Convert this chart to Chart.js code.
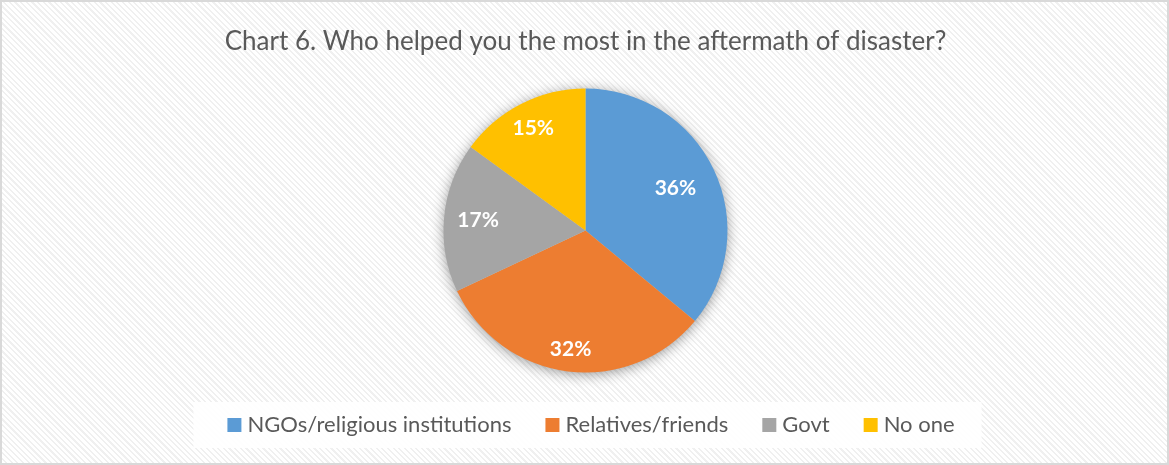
<!DOCTYPE html>
<html lang="en">
<head>
    <meta charset="UTF-8">
    <title>Chart 6</title>
    <script src="https://cdn.jsdelivr.net/npm/chart.js@4.4.1/dist/chart.umd.min.js"></script>
    <style>
        html, body { margin: 0; padding: 0; background: #ffffff; }
        #wrap {
            width: 1169px;
            height: 465px;
            box-sizing: border-box;
            border: 2px solid #d9d9d9;
            background-color: #ffffff;
            /* light diagonal hatch behind the chart */
            background-image: repeating-linear-gradient(45deg, #ffffff 0px, #ffffff 2.4px, #f0f0f0 2.4px, #f0f0f0 4px);
            position: relative;
        }
        #wrap canvas { display: block; }
    </style>
</head>
<body>
    <div id="wrap">
        <canvas id="helpChart"></canvas>
    </div>
    <script>
        const categories = ['NGOs/religious institutions', 'Relatives/friends', 'Govt', 'No one'];
        const shares = [36, 32, 17, 15];
        const sliceColors = ['#5b9bd5', '#ed7d31', '#a5a5a5', '#ffc000'];
        const FONT = 'Lato, "Open Sans", sans-serif';
        const TEXT = '#595959';

        // soft shadow under the whole pie
        const pieShadow = {
            id: 'pieShadow',
            beforeDatasetsDraw(chart) {
                const arc = chart.getDatasetMeta(0).data[0];
                if (!arc) return;
                const ctx = chart.ctx;
                ctx.save();
                ctx.shadowColor = 'rgba(0, 0, 0, 0.45)';
                ctx.shadowBlur = 14;
                ctx.shadowOffsetY = 2;
                ctx.fillStyle = '#cccccc';
                ctx.beginPath();
                ctx.arc(arc.x, arc.y, arc.outerRadius - 1, 0, Math.PI * 2);
                ctx.fill();
                ctx.restore();
            }
        };

        // percentage labels inside the slices
        const sliceLabels = {
            id: 'sliceLabels',
            afterDatasetsDraw(chart, args, opts) {
                const ctx = chart.ctx;
                const values = chart.data.datasets[0].data;
                ctx.save();
                ctx.font = 'bold 21px ' + FONT;
                ctx.fillStyle = '#ffffff';
                ctx.textAlign = 'center';
                ctx.textBaseline = 'middle';
                chart.getDatasetMeta(0).data.forEach((arc, i) => {
                    const mid = (arc.startAngle + arc.endAngle) / 2;
                    const r = arc.outerRadius * opts.radii[i];
                    ctx.fillText(values[i] + '%', arc.x + Math.cos(mid) * r, arc.y + Math.sin(mid) * r);
                });
                ctx.restore();
            }
        };

        // legend row at the bottom, on a white panel
        const bottomLegend = {
            id: 'bottomLegend',
            afterDraw(chart, args, opts) {
                const ctx = chart.ctx;
                const colors = chart.data.datasets[0].backgroundColor;
                const labels = chart.data.labels;
                ctx.save();
                ctx.font = opts.fontSize + 'px ' + FONT;
                const widths = labels.map(l => ctx.measureText(l).width);
                let total = 0;
                widths.forEach((w, i) => {
                    total += opts.box + opts.boxGap + w + (i < widths.length - 1 ? opts.itemGap : 0);
                });
                let x = opts.centerX - total / 2;
                const y = opts.centerY;

                ctx.fillStyle = 'rgba(255, 255, 255, 0.9)';
                ctx.fillRect(x - opts.panelPadLeft, y - 23, total + opts.panelPadLeft + opts.panelPadRight, 46);

                ctx.textBaseline = 'middle';
                ctx.textAlign = 'left';
                labels.forEach((label, i) => {
                    ctx.fillStyle = colors[i];
                    ctx.fillRect(x, y - opts.box / 2, opts.box, opts.box);
                    ctx.fillStyle = TEXT;
                    ctx.fillText(label, x + opts.box + opts.boxGap, y);
                    x += opts.box + opts.boxGap + widths[i] + opts.itemGap;
                });
                ctx.restore();
            }
        };

        new Chart(document.getElementById('helpChart'), {
            type: 'pie',
            data: {
                labels: categories,
                datasets: [{
                    data: shares,
                    backgroundColor: sliceColors,
                    borderWidth: 0,
                    radius: 142
                }]
            },
            options: {
                responsive: true,
                maintainAspectRatio: false,
                animation: false,
                events: [],
                layout: {
                    padding: { top: 0, bottom: 57, left: 2, right: 0 }
                },
                plugins: {
                    legend: { display: false },
                    tooltip: { enabled: false },
                    title: {
                        display: true,
                        text: 'Chart 6. Who helped you the most in the aftermath of disaster?',
                        color: TEXT,
                        font: { family: FONT, size: 26, weight: 'normal', lineHeight: 1 },
                        padding: { top: 27, bottom: 0 }
                    },
                    sliceLabels: { radii: [0.70, 0.84, 0.76, 0.81] },
                    bottomLegend: {
                        fontSize: 22,
                        box: 14,
                        boxGap: 6,
                        itemGap: 34,
                        centerX: 589,
                        centerY: 423,
                        panelPadLeft: 34,
                        panelPadRight: 27
                    }
                }
            },
            plugins: [pieShadow, sliceLabels, bottomLegend]
        });
    </script>
</body>
</html>
